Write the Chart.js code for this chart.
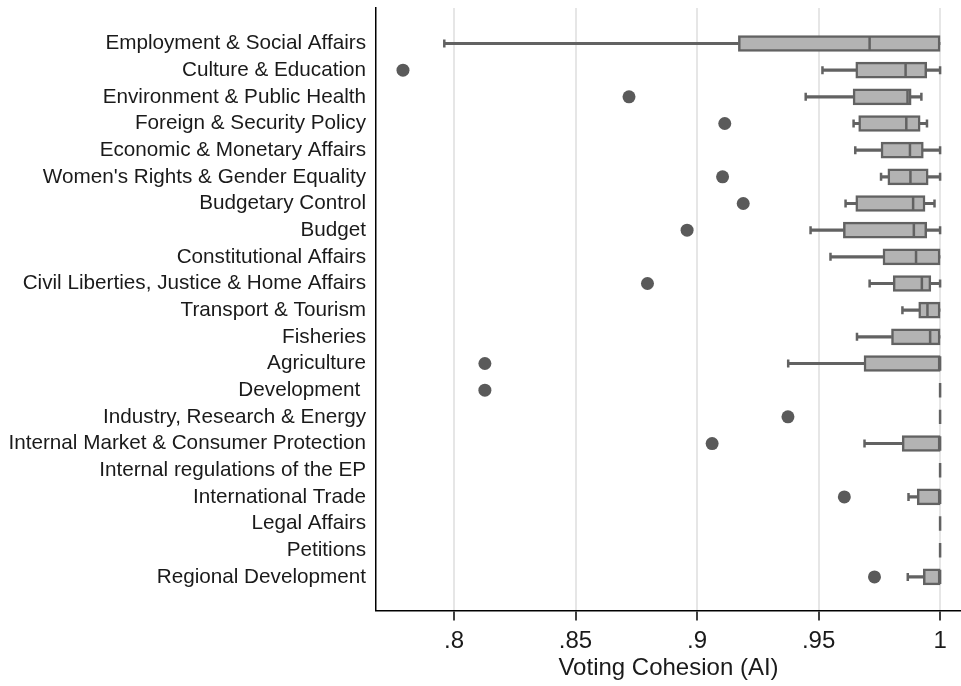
<!DOCTYPE html>
<html>
<head>
<meta charset="utf-8">
<script src="https://cdn.jsdelivr.net/npm/chart.js@4/dist/chart.umd.min.js"></script>
<style>
  html, body { margin: 0; padding: 0; background: #ffffff; }
  #wrap { width: 961px; height: 686px; }
</style>
</head>
<body>
<div id="wrap"><canvas id="c" width="961" height="686"></canvas></div>
<script>
// Committees, top to bottom
const committees = [
  'Employment & Social Affairs',
  'Culture & Education',
  'Environment & Public Health',
  'Foreign & Security Policy',
  'Economic & Monetary Affairs',
  "Women's Rights & Gender Equality",
  'Budgetary Control',
  'Budget',
  'Constitutional Affairs',
  'Civil Liberties, Justice & Home Affairs',
  'Transport & Tourism',
  'Fisheries',
  'Agriculture',
  'Development ',
  'Industry, Research & Energy',
  'Internal Market & Consumer Protection',
  'Internal regulations of the EP',
  'International Trade',
  'Legal Affairs',
  'Petitions',
  'Regional Development'
];

// Box-plot summaries of the Agreement Index per committee
const whiskerLow  = [0.796, 0.9516, 0.9447, 0.9644, 0.9651, 0.9757, 0.9611, 0.9467, 0.9549, 0.9710, 0.9845, 0.9658, 0.9375, 1, 1, 0.9689, 1, 0.9870, 1, 1, 0.9867];
const quartile1   = [0.917, 0.9653, 0.9642, 0.9665, 0.9757, 0.9785, 0.9653, 0.9602, 0.9765, 0.9807, 0.9912, 0.9800, 0.9687, 1, 1, 0.9844, 1, 0.9906, 1, 1, 0.9931];
const medians     = [0.971, 0.9858, 0.9866, 0.9861, 0.9876, 0.9878, 0.9889, 0.9892, 0.9901, 0.9925, 0.9948, 0.9959, 1, 1, 1, 1, 1, 1, 1, 1, 1];
const quartile3   = [1, 0.9945, 0.9881, 0.9918, 0.9931, 0.9951, 0.9938, 0.9945, 1, 0.9962, 1, 1, 1, 1, 1, 1, 1, 1, 1, 1, 1];
const whiskerHigh = [1, 1, 0.9923, 0.9946, 1, 1, 0.9977, 1, 1, 1, 1, 1, 1, 1, 1, 1, 1, 1, 1, 1, 1];

// Outside values: committee index and AI value
const outlierRow   = [1, 2, 3, 5, 6, 7, 9, 12, 13, 14, 15, 17, 20];
const outlierValue = [0.779, 0.872, 0.9114, 0.9105, 0.919, 0.8959, 0.8796, 0.8127, 0.8127, 0.9374, 0.9062, 0.9606, 0.973];

// X axis ticks
const xTickValues = [0.8, 0.85, 0.9, 0.95, 1];
const xTickLabels = ['.8', '.85', '.9', '.95', '1'];

const rows = committees.map((_, i) => i);
const FONT = "'Liberation Sans', Arial, sans-serif";
const LINE = '#626262';

const boxData   = rows.map(i => ({ y: i, x: [quartile1[i], quartile3[i]] }));
const lowWhisk  = rows.map(i => ({ y: i, x: [whiskerLow[i], quartile1[i]] }));
const highWhisk = rows.map(i => ({ y: i, x: [quartile3[i], whiskerHigh[i]] }));
const medPts    = rows.map(i => ({ y: i, x: medians[i] }));
const capPts    = rows.flatMap(i => {
  const pts = [];
  if (whiskerLow[i] < quartile1[i]) pts.push({ y: i, x: whiskerLow[i] });
  if (whiskerHigh[i] > quartile3[i]) pts.push({ y: i, x: whiskerHigh[i] });
  return pts;
});
const outPts    = outlierRow.map((r, k) => ({ y: r, x: outlierValue[k] }));

new Chart(document.getElementById('c'), {
  type: 'bar',
  data: {
    datasets: [
      { type: 'scatter', data: outPts, order: 1,
        pointRadius: 6.5, pointBackgroundColor: '#5a5a5a', pointBorderWidth: 0 },
      { type: 'scatter', data: medPts, order: 2,
        pointStyle: 'line', rotation: 90, pointRadius: 7.2,
        pointBorderColor: LINE, pointBorderWidth: 2.5 },
      { type: 'scatter', data: capPts, order: 3,
        pointStyle: 'line', rotation: 90, pointRadius: 4,
        pointBorderColor: LINE, pointBorderWidth: 2.5 },
      { type: 'bar', data: boxData, order: 4, grouped: false,
        barThickness: 16, backgroundColor: '#b3b3b3',
        borderColor: LINE, borderWidth: 2.5, borderSkipped: false },
      { type: 'bar', data: lowWhisk, order: 5, grouped: false,
        barThickness: 2.5, backgroundColor: LINE, borderWidth: 0 },
      { type: 'bar', data: highWhisk, order: 5, grouped: false,
        barThickness: 2.5, backgroundColor: LINE, borderWidth: 0 }
    ]
  },
  options: {
    indexAxis: 'y',
    responsive: false,
    animation: false,
    events: [],
    layout: { autoPadding: false, padding: { top: 8, right: 0, bottom: 0, left: 0 } },
    plugins: { legend: { display: false }, tooltip: { enabled: false } },
    scales: {
      x: {
        type: 'linear',
        position: 'bottom',
        min: 0.7679,
        max: 1.0086,
        afterBuildTicks: s => { s.ticks = xTickValues.map(v => ({ value: v })); },
        afterFit: s => { s.height = 75.5; s.paddingLeft = 0; s.paddingRight = 0; },
        grid: { display: true, color: '#e6e6e6', lineWidth: 2,
                drawTicks: true, tickLength: 10, tickColor: '#000000', tickWidth: 1.5 },
        border: { display: true, color: '#000000', width: 1.5 },
        ticks: {
          padding: 6,
          color: '#1a1a1a',
          font: { family: FONT, size: 24 },
          maxRotation: 0,
          autoSkip: false,
          callback: (v, i) => xTickLabels[i]
        },
        title: {
          display: true,
          text: 'Voting Cohesion (AI)',
          color: '#1a1a1a',
          font: { family: FONT, size: 24 },
          padding: { top: 0, bottom: 3 }
        }
      },
      y: {
        type: 'linear',
        position: 'left',
        reverse: true,
        offset: false,
        min: -1.33,
        max: 21.26,
        afterBuildTicks: s => { s.ticks = rows.map(v => ({ value: v })); },
        afterFit: s => { s.width = 376; s.paddingTop = 0; s.paddingBottom = 0; },
        grid: { display: false, drawTicks: false, offset: false },
        border: { display: true, color: '#000000', width: 1.5 },
        ticks: {
          padding: 10,
          color: '#1a1a1a',
          font: { family: FONT, size: 20.7 },
          autoSkip: false,
          callback: v => committees[v]
        }
      }
    }
  }
});
</script>
</body>
</html>
